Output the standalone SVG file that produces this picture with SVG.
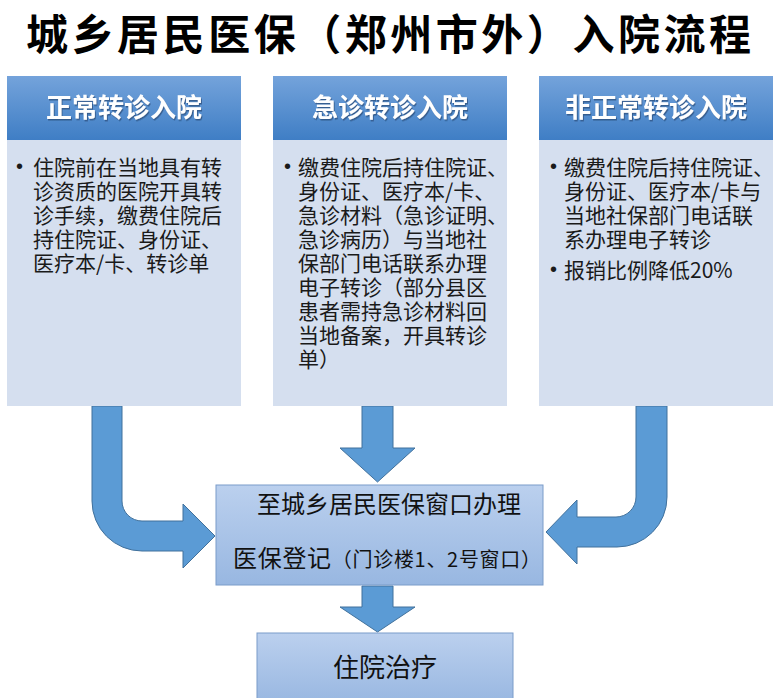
<svg xmlns="http://www.w3.org/2000/svg" width="777" height="698" viewBox="0 0 777 698">
<style>
.title{font-family:"Noto Sans CJK SC","Microsoft YaHei",sans-serif;font-weight:bold;font-size:42px;fill:#000}
.hdr{font-family:"Noto Sans CJK SC",sans-serif;font-weight:bold;font-size:26px;fill:#fff;text-anchor:middle}
.body{font-family:"Noto Sans CJK SC",sans-serif;font-size:21px;fill:#1a1a1a}
.bul{font-family:"Liberation Sans",sans-serif;font-size:20px;fill:#1a1a1a}
.big{font-family:"Noto Sans CJK SC",sans-serif;font-size:24px;fill:#111}
.sm{font-size:20px}
.bodybox{fill:#d5dfef}
.hdrbox{fill:url(#hg)}
.pbox{fill:url(#pg);stroke:#7b9cc9;stroke-width:1}
.arr{fill:#5b9bd5;stroke:#41719c;stroke-width:1}
</style>
<defs>
<linearGradient id="hg" x1="0" y1="0" x2="0" y2="1">
<stop offset="0" stop-color="#74a3db"/>
<stop offset="1" stop-color="#3f7ec5"/>
</linearGradient>
<linearGradient id="pg" x1="0" y1="0" x2="0" y2="1">
<stop offset="0" stop-color="#bbd0ee"/>
<stop offset="1" stop-color="#98b7e1"/>
</linearGradient>
<filter id="sh" x="-10%" y="-20%" width="120%" height="140%">
<feDropShadow dx="1" dy="1.5" stdDeviation="0.6" flood-color="#1d3c66" flood-opacity="0.6"/>
</filter>
</defs>
<rect width="777" height="698" fill="#fff"/>

<g id="title">
<text class="title" x="26" y="50" textLength="725" lengthAdjust="spacing">城乡居民医保（郑州市外）入院流程</text>
</g>

<g id="connectors">
<path class="arr" d="M92,406 L122,406 L122,501 A20,20 0 0 0 142,521 L183,521 L183,504 L215,536 L183,568 L183,551 L142,551 A50,50 0 0 1 92,501 Z"/>
<path class="arr" d="M362,406 L393,406 L393,448 L415,448 L377.5,482 L340,448 L362,448 Z"/>
<path class="arr" d="M667,406 L636,406 L636,497 A20,20 0 0 1 616,517 L577,517 L577,500 L546,532 L577,564 L577,547 L617,547 A50,50 0 0 0 667,497 Z"/>
<path class="arr" d="M362,586 L393,586 L393,607 L415,607 L377.5,632 L340,607 L362,607 Z"/>
</g>

<g id="node-normal">
<rect class="hdrbox" x="7" y="76" width="234" height="64"/>
<rect class="bodybox" x="7" y="140" width="234" height="266"/>
<text class="hdr" x="124" y="117" filter="url(#sh)">正常转诊入院</text>
<text class="bul" x="16" y="173">•</text>
<text class="body"><tspan x="33" y="175">住院前在当地具有转</tspan><tspan x="33" y="199">诊资质的医院开具转</tspan><tspan x="33" y="223">诊手续，缴费住院后</tspan><tspan x="33" y="247">持住院证、身份证、</tspan><tspan x="33" y="271">医疗本/卡、转诊单</tspan></text>
</g>

<g id="node-emergency">
<rect class="hdrbox" x="273" y="76" width="234" height="64"/>
<rect class="bodybox" x="273" y="140" width="234" height="266"/>
<text class="hdr" x="390" y="117" filter="url(#sh)">急诊转诊入院</text>
<text class="bul" x="284" y="173">•</text>
<text class="body"><tspan x="298" y="175">缴费住院后持住院证、</tspan><tspan x="298" y="199">身份证、医疗本/卡、</tspan><tspan x="298" y="223">急诊材料（急诊证明、</tspan><tspan x="298" y="247">急诊病历）与当地社</tspan><tspan x="298" y="271">保部门电话联系办理</tspan><tspan x="298" y="295">电子转诊（部分县区</tspan><tspan x="298" y="319">患者需持急诊材料回</tspan><tspan x="298" y="343">当地备案，开具转诊</tspan><tspan x="298" y="367">单）</tspan></text>
</g>

<g id="node-abnormal">
<rect class="hdrbox" x="539" y="76" width="234" height="64"/>
<rect class="bodybox" x="539" y="140" width="234" height="266"/>
<text class="hdr" x="656" y="117" filter="url(#sh)">非正常转诊入院</text>
<text class="bul" x="550" y="173">•</text>
<text class="body"><tspan x="564" y="175">缴费住院后持住院证、</tspan><tspan x="564" y="199">身份证、医疗本/卡与</tspan><tspan x="564" y="223">当地社保部门电话联</tspan><tspan x="564" y="247">系办理电子转诊</tspan></text>
<text class="bul" x="550" y="276">•</text>
<text class="body" x="564" y="278">报销比例降低20%</text>
</g>

<g id="node-register">
<rect class="pbox" x="216" y="485" width="327" height="100"/>
<text class="big" x="257" y="513">至城乡居民医保窗口办理</text>
<text class="big" x="233" y="567" textLength="308" lengthAdjust="spacing">医保登记<tspan class="sm">（门诊楼1、2号窗口）</tspan></text>
</g>

<g id="node-treatment">
<rect class="pbox" x="257" y="633" width="256" height="70"/>
<text class="big" x="385" y="677" style="font-size:26px;text-anchor:middle">住院治疗</text>
</g>
</svg>
